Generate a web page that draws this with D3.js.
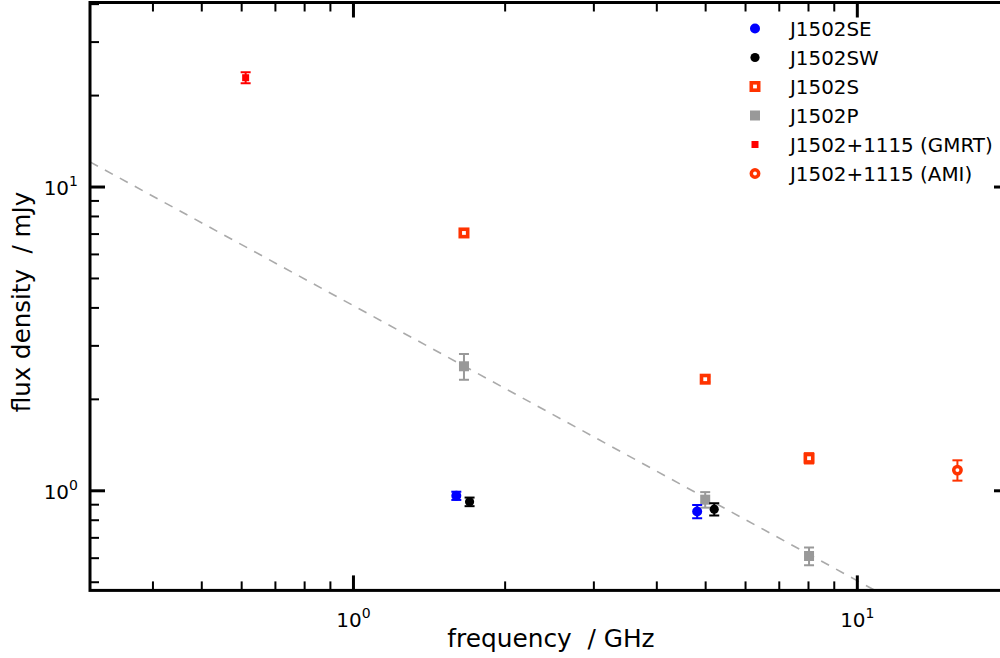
<!DOCTYPE html>
<html>
<head>
<meta charset="utf-8">
<script src="https://cdn.jsdelivr.net/npm/d3@7"></script>
<style>
  html, body { margin: 0; padding: 0; background: #fff; }
  svg { display: block; font-family: "DejaVu Sans", sans-serif; }
</style>
</head>
<body>
<svg id="chart" width="1000" height="658"></svg>
<script>
// ---- data (frequency GHz, flux mJy, error mJy) ----
const seriesNames = ["J1502SE", "J1502SW", "J1502S", "J1502P", "J1502+1115 (GMRT)", "J1502+1115 (AMI)"];
const dataSE = [[1.60, 0.963, 0.03], [4.81, 0.855, 0.043]];
const dataSW = [[1.70, 0.920, 0.03], [5.20, 0.870, 0.040]];
const dataS  = [[1.657, 7.06, 0.20], [4.99, 2.33, 0.05], [8.02, 1.28, 0.05]];
const dataP  = [[1.657, 2.57, 0.25], [4.99, 0.935, 0.055], [8.02, 0.610, 0.041]];
const dataGMRT = [[0.611, 22.9, 0.95]];
const dataAMI  = [[15.8, 1.17, 0.09]];
const fitLine = [[0.3, 12.1], [20, 0.27]];
const xTicksMajor = [1, 10];
const yTicksMajor = [1, 10];
const xDomain = [0.3, 20];
const yDomain = [0.47, 40.5];

const svg = d3.select("#chart");
const L = 90, R = 1009, T = 2.5, B = 590.4;
const x = d3.scaleLog().domain(xDomain).range([L, R]);
const y = d3.scaleLog().domain(yDomain).range([B, T]);

svg.append("defs").append("clipPath").attr("id", "clip")
  .append("rect").attr("x", L).attr("y", T).attr("width", R - L).attr("height", B - T);

const plot = svg.append("g").attr("clip-path", "url(#clip)");

// fit line
plot.append("path")
  .datum(fitLine)
  .attr("d", d3.line().x(d => x(d[0])).y(d => y(d[1])))
  .attr("fill", "none").attr("stroke", "#aaaaaa").attr("stroke-width", 1.6)
  .attr("stroke-dasharray", "9,8");

function errorbars(data, color) {
  const g = plot.append("g");
  data.forEach(d => {
    const cx = x(d[0]), y1 = y(d[1] + d[2]), y2 = y(d[1] - d[2]);
    g.append("line").attr("x1", cx).attr("x2", cx).attr("y1", y1).attr("y2", y2)
      .attr("stroke", color).attr("stroke-width", 2);
    [y1, y2].forEach(yy => g.append("line").attr("x1", cx - 5).attr("x2", cx + 5)
      .attr("y1", yy).attr("y2", yy).attr("stroke", color).attr("stroke-width", 2));
  });
}

function marker(g, kind, cx, cy) {
  switch (kind) {
    case "SE": g.append("circle").attr("cx", cx).attr("cy", cy).attr("r", 5).attr("fill", "#0000ff"); break;
    case "SW": g.append("circle").attr("cx", cx).attr("cy", cy).attr("r", 4.6).attr("fill", "#000000"); break;
    case "S": g.append("rect").attr("x", cx - 3.7).attr("y", cy - 3.7).attr("width", 7.4).attr("height", 7.4)
      .attr("fill", "#ffffff").attr("stroke", "#ff3300").attr("stroke-width", 3.6); break;
    case "P": g.append("rect").attr("x", cx - 5).attr("y", cy - 5).attr("width", 10).attr("height", 10)
      .attr("fill", "#999999"); break;
    case "GMRT": g.append("rect").attr("x", cx - 3.5).attr("y", cy - 3.5).attr("width", 7).attr("height", 7)
      .attr("fill", "#ff0000"); break;
    case "AMI": g.append("circle").attr("cx", cx).attr("cy", cy).attr("r", 3.7)
      .attr("fill", "#ffffff").attr("stroke", "#ff3300").attr("stroke-width", 3.5); break;
  }
}

function points(data, kind, color) {
  errorbars(data, color);
  const g = plot.append("g");
  data.forEach(d => marker(g, kind, x(d[0]), y(d[1])));
}

points(dataP, "P", "#999999");
points(dataS, "S", "#ff3300");
points(dataSE, "SE", "#0000ff");
points(dataSW, "SW", "#000000");
points(dataGMRT, "GMRT", "#ff0000");
points(dataAMI, "AMI", "#ff3300");

// ---- axes: ticks inside on all four sides ----
const axG = svg.append("g");
function logTicks(domain) {
  const out = [];
  for (let e = -2; e <= 3; e++) for (let m = 1; m <= 9; m++) {
    const v = m * Math.pow(10, e);
    if (v >= domain[0] * 0.999 && v <= domain[1] * 1.001) out.push({ v, major: m === 1 });
  }
  return out;
}
logTicks(xDomain).forEach(t => {
  const px = x(t.v), len = t.major ? 15 : 9, w = t.major ? 3 : 2;
  axG.append("line").attr("x1", px).attr("x2", px).attr("y1", B).attr("y2", B - len).attr("stroke", "#000").attr("stroke-width", w);
  axG.append("line").attr("x1", px).attr("x2", px).attr("y1", T).attr("y2", T + len).attr("stroke", "#000").attr("stroke-width", w);
});
logTicks(yDomain).forEach(t => {
  const py = y(t.v), len = t.major ? 15 : 9, w = t.major ? 3 : 2;
  axG.append("line").attr("x1", L).attr("x2", L + len).attr("y1", py).attr("y2", py).attr("stroke", "#000").attr("stroke-width", w);
  axG.append("line").attr("x1", R).attr("x2", R - len).attr("y1", py).attr("y2", py).attr("stroke", "#000").attr("stroke-width", w);
});
axG.append("rect").attr("x", L).attr("y", T).attr("width", R - L).attr("height", B - T)
  .attr("fill", "none").attr("stroke", "#000").attr("stroke-width", 3);

// tick labels
function powLabel(g, v) {
  const e = Math.round(Math.log10(v));
  g.append("tspan").text("10");
  g.append("tspan").attr("dy", -9).attr("font-size", 14).text(e);
}
xTicksMajor.forEach(v => {
  const t = svg.append("text").attr("x", x(v)).attr("y", 627).attr("font-size", 20)
    .attr("text-anchor", "middle").attr("fill", "#000");
  powLabel(t, v);
});
yTicksMajor.forEach(v => {
  const t = svg.append("text").attr("x", 78).attr("y", y(v) + 8).attr("font-size", 20)
    .attr("text-anchor", "end").attr("fill", "#000");
  powLabel(t, v);
});

// axis titles
svg.append("text").attr("x", 551).attr("y", 647).attr("text-anchor", "middle")
  .attr("font-size", 24.8).attr("xml:space", "preserve").text("frequency  / GHz");
svg.append("text").attr("transform", "translate(30,302) rotate(-90)").attr("text-anchor", "middle")
  .attr("font-size", 24.5).attr("xml:space", "preserve").text("flux density  / mJy");

// legend
const kinds = ["SE", "SW", "S", "P", "GMRT", "AMI"];
const lg = svg.append("g");
seriesNames.forEach((name, i) => {
  const yy = 28.5 + i * 29;
  marker(lg, kinds[i], 755, yy);
  lg.append("text").attr("x", 790).attr("y", yy + 7).attr("font-size", 19.9).text(name);
});
</script>
</body>
</html>
